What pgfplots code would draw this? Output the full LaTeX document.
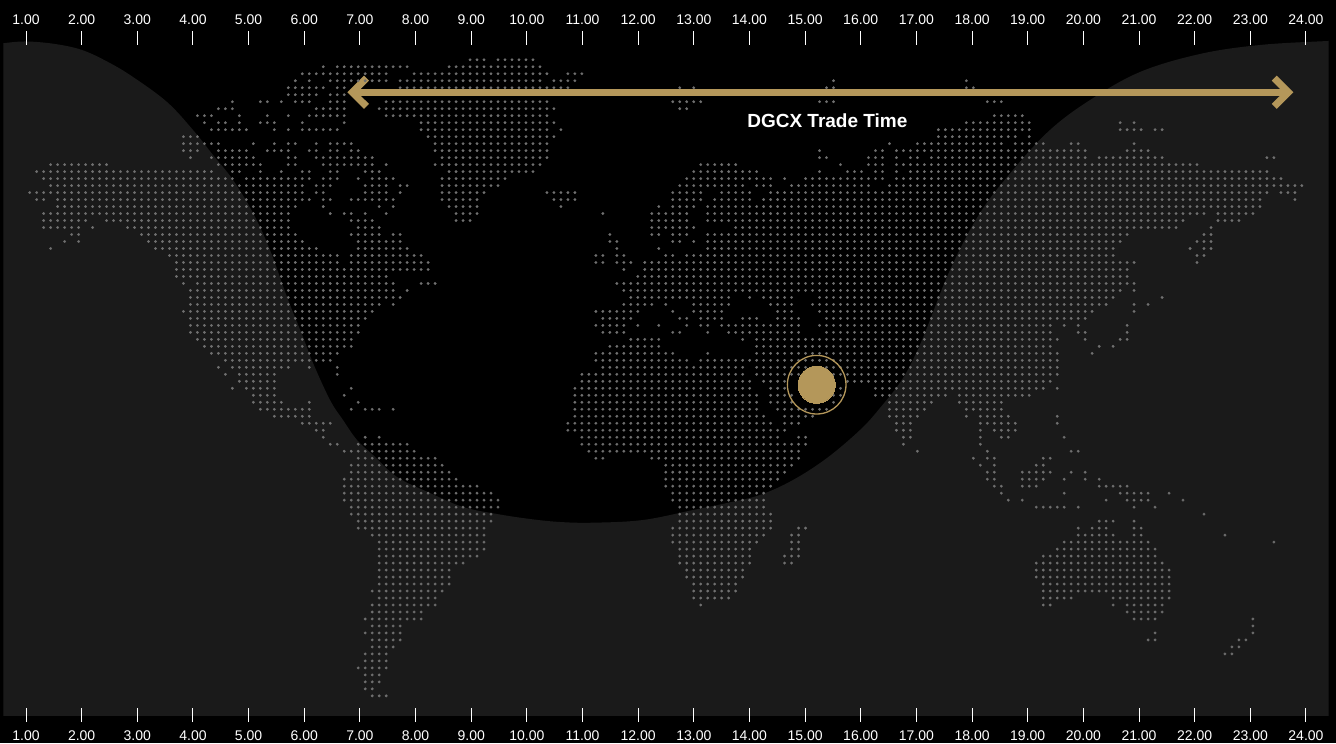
\documentclass[border=0pt]{standalone}
\usepackage{pgfplots}
\pgfplotsset{compat=1.18}
\usepackage{fontspec}
\setmainfont{Liberation Sans}
\definecolor{gold}{HTML}{B4975A}
\definecolor{land}{HTML}{707070}
% 1 px of the reference = 0.5pt here, x in hours, y in reference pixels
\pgfplotsset{timeaxis/.style={
  at={(1.65pt,14pt)}, anchor=south west,
  scale only axis, width=662.7pt, height=338.25pt,
  xmin=0.5921, xmax=24.4088, ymin=38.5, ymax=715, y dir=reverse,
  axis line style={draw=none},
  xtick={1,2,...,24}, ytick=\empty,
  tick align=center, major tick length=7pt,
  x tick style={white, line width=0.5pt},
  xticklabel style={white, font=\fontsize{7}{8}\selectfont,
    /pgf/number format/assume math mode=true,
    /pgf/number format/fixed, /pgf/number format/fixed zerofill, /pgf/number format/precision=2},
}}
\begin{document}
\begin{tikzpicture}
\useasboundingbox (0,0) rectangle (668pt,371.5pt);
\fill[black] (0,0) rectangle (668pt,371.5pt);
\begin{axis}[timeaxis, xtick pos=lower, xticklabel pos=lower, xticklabel shift=1pt]

% land dots on the 7 px grid: column, row
\addplot[only marks, mark=*, mark size=0.66pt, mark options={draw=land, fill=land, line width=0.1pt}, forget plot]
  table[x expr={(6.99*\thisrow{c}-24.29)/55.65+1}, y expr={3.86+6.99*\thisrow{r}}] {
c r
67 8
68 8
69 8
71 8
72 8
73 8
74 8
75 8
76 8
46 9
48 9
49 9
50 9
51 9
52 9
53 9
54 9
55 9
56 9
57 9
58 9
64 9
65 9
66 9
67 9
68 9
69 9
70 9
71 9
72 9
73 9
74 9
75 9
76 9
77 9
43 10
44 10
45 10
46 10
47 10
48 10
49 10
50 10
51 10
52 10
53 10
54 10
55 10
59 10
60 10
61 10
62 10
63 10
64 10
65 10
66 10
67 10
68 10
69 10
70 10
71 10
72 10
73 10
74 10
75 10
76 10
77 10
78 10
81 10
82 10
83 10
42 11
44 11
47 11
48 11
49 11
50 11
51 11
52 11
53 11
54 11
55 11
57 11
58 11
59 11
60 11
61 11
62 11
63 11
64 11
65 11
66 11
67 11
68 11
69 11
70 11
71 11
72 11
73 11
74 11
75 11
76 11
77 11
79 11
80 11
81 11
82 11
119 11
138 11
41 12
42 12
43 12
44 12
45 12
46 12
48 12
49 12
57 12
58 12
59 12
60 12
61 12
62 12
63 12
64 12
65 12
66 12
67 12
68 12
69 12
70 12
71 12
72 12
73 12
74 12
75 12
76 12
77 12
78 12
79 12
80 12
81 12
97 12
99 12
118 12
119 12
138 12
139 12
41 13
42 13
43 13
44 13
45 13
47 13
48 13
49 13
33 14
37 14
38 14
40 14
42 14
43 14
44 14
47 14
48 14
49 14
55 14
56 14
57 14
58 14
59 14
60 14
61 14
62 14
63 14
64 14
65 14
66 14
67 14
68 14
69 14
70 14
71 14
72 14
73 14
74 14
75 14
76 14
77 14
78 14
96 14
97 14
98 14
99 14
100 14
117 14
118 14
119 14
141 14
142 14
143 14
31 15
32 15
33 15
45 15
46 15
47 15
48 15
49 15
54 15
55 15
56 15
57 15
58 15
59 15
60 15
61 15
62 15
63 15
64 15
65 15
66 15
67 15
68 15
69 15
70 15
71 15
72 15
73 15
74 15
75 15
76 15
77 15
78 15
79 15
97 15
98 15
28 16
29 16
30 16
34 16
38 16
41 16
44 16
45 16
46 16
47 16
48 16
49 16
55 16
56 16
57 16
58 16
59 16
60 16
61 16
62 16
63 16
64 16
65 16
66 16
67 16
68 16
69 16
70 16
71 16
72 16
73 16
74 16
75 16
76 16
77 16
78 16
142 16
143 16
144 16
145 16
146 16
29 17
31 17
32 17
34 17
37 17
38 17
39 17
43 17
49 17
60 17
61 17
62 17
63 17
64 17
65 17
66 17
67 17
68 17
69 17
70 17
71 17
72 17
73 17
74 17
75 17
76 17
77 17
78 17
79 17
138 17
139 17
140 17
141 17
142 17
143 17
144 17
145 17
146 17
147 17
160 17
162 17
30 18
31 18
32 18
33 18
34 18
35 18
39 18
41 18
43 18
44 18
45 18
46 18
47 18
48 18
60 18
61 18
62 18
63 18
64 18
65 18
66 18
67 18
68 18
69 18
70 18
71 18
72 18
73 18
74 18
75 18
76 18
77 18
78 18
80 18
134 18
135 18
136 18
137 18
138 18
139 18
140 18
141 18
142 18
143 18
144 18
145 18
146 18
147 18
160 18
161 18
162 18
163 18
165 18
166 18
26 19
27 19
28 19
61 19
62 19
63 19
64 19
65 19
66 19
67 19
68 19
69 19
70 19
71 19
72 19
73 19
74 19
75 19
76 19
77 19
78 19
79 19
134 19
135 19
136 19
137 19
138 19
139 19
140 19
141 19
142 19
143 19
144 19
145 19
147 19
26 20
27 20
28 20
29 20
30 20
31 20
36 20
39 20
41 20
42 20
45 20
47 20
48 20
49 20
50 20
62 20
63 20
64 20
65 20
66 20
67 20
68 20
69 20
70 20
71 20
72 20
73 20
74 20
75 20
76 20
77 20
78 20
127 20
131 20
132 20
133 20
134 20
135 20
136 20
137 20
138 20
139 20
140 20
141 20
142 20
143 20
145 20
146 20
147 20
148 20
149 20
153 20
154 20
162 20
26 21
27 21
28 21
31 21
32 21
33 21
34 21
35 21
38 21
39 21
40 21
41 21
44 21
45 21
47 21
48 21
50 21
51 21
62 21
63 21
64 21
65 21
66 21
67 21
68 21
69 21
70 21
71 21
72 21
73 21
74 21
75 21
76 21
77 21
78 21
117 21
125 21
126 21
128 21
129 21
130 21
131 21
132 21
133 21
134 21
135 21
136 21
137 21
138 21
139 21
140 21
141 21
142 21
143 21
144 21
145 21
146 21
147 21
148 21
149 21
150 21
151 21
152 21
153 21
154 21
155 21
161 21
162 21
163 21
164 21
27 22
30 22
31 22
32 22
33 22
34 22
35 22
36 22
41 22
42 22
45 22
46 22
47 22
48 22
49 22
50 22
51 22
52 22
53 22
63 22
64 22
65 22
66 22
67 22
68 22
69 22
70 22
71 22
72 22
73 22
74 22
75 22
76 22
77 22
78 22
117 22
118 22
124 22
125 22
126 22
128 22
130 22
131 22
133 22
134 22
135 22
136 22
137 22
138 22
139 22
140 22
141 22
142 22
143 22
144 22
145 22
146 22
147 22
148 22
149 22
150 22
151 22
152 22
153 22
154 22
155 22
157 22
158 22
159 22
160 22
161 22
162 22
163 22
164 22
165 22
166 22
181 22
182 22
7 23
8 23
9 23
10 23
11 23
12 23
13 23
14 23
15 23
31 23
32 23
33 23
34 23
35 23
36 23
37 23
41 23
42 23
46 23
47 23
48 23
49 23
50 23
51 23
52 23
53 23
55 23
62 23
63 23
64 23
65 23
66 23
67 23
68 23
69 23
70 23
71 23
72 23
73 23
74 23
75 23
76 23
77 23
100 23
101 23
102 23
103 23
104 23
105 23
120 23
124 23
125 23
126 23
128 23
129 23
130 23
131 23
132 23
133 23
134 23
135 23
136 23
137 23
138 23
139 23
140 23
141 23
142 23
143 23
144 23
145 23
146 23
147 23
148 23
149 23
150 23
151 23
152 23
153 23
154 23
155 23
156 23
157 23
158 23
159 23
160 23
161 23
162 23
163 23
164 23
165 23
166 23
167 23
168 23
169 23
170 23
171 23
5 24
6 24
7 24
8 24
9 24
10 24
11 24
12 24
13 24
14 24
15 24
16 24
17 24
18 24
19 24
20 24
21 24
22 24
23 24
24 24
25 24
26 24
27 24
28 24
29 24
30 24
33 24
34 24
37 24
40 24
43 24
44 24
47 24
48 24
52 24
53 24
54 24
64 24
65 24
66 24
67 24
68 24
69 24
70 24
71 24
72 24
73 24
74 24
75 24
76 24
99 24
100 24
101 24
102 24
103 24
104 24
105 24
106 24
107 24
108 24
117 24
121 24
122 24
123 24
125 24
126 24
128 24
130 24
131 24
132 24
133 24
134 24
135 24
136 24
137 24
138 24
139 24
140 24
141 24
142 24
143 24
144 24
145 24
146 24
147 24
148 24
149 24
150 24
151 24
152 24
153 24
154 24
155 24
156 24
157 24
158 24
159 24
160 24
161 24
162 24
163 24
164 24
165 24
166 24
167 24
168 24
169 24
170 24
171 24
172 24
173 24
174 24
175 24
176 24
177 24
178 24
179 24
180 24
181 24
6 25
7 25
8 25
9 25
10 25
11 25
12 25
13 25
14 25
15 25
16 25
17 25
18 25
19 25
20 25
21 25
22 25
23 25
24 25
25 25
26 25
27 25
28 25
29 25
30 25
31 25
32 25
33 25
35 25
36 25
37 25
38 25
39 25
40 25
41 25
42 25
43 25
44 25
46 25
47 25
48 25
51 25
53 25
54 25
55 25
56 25
63 25
64 25
65 25
66 25
67 25
68 25
69 25
70 25
71 25
72 25
98 25
99 25
100 25
101 25
102 25
103 25
104 25
105 25
106 25
107 25
108 25
109 25
110 25
112 25
115 25
116 25
117 25
118 25
119 25
120 25
121 25
122 25
123 25
124 25
125 25
126 25
128 25
129 25
130 25
131 25
132 25
133 25
134 25
135 25
136 25
137 25
138 25
139 25
140 25
141 25
142 25
143 25
144 25
145 25
146 25
147 25
148 25
149 25
150 25
151 25
152 25
153 25
154 25
155 25
156 25
157 25
158 25
159 25
160 25
161 25
162 25
163 25
164 25
165 25
166 25
167 25
168 25
169 25
170 25
171 25
172 25
173 25
174 25
175 25
176 25
177 25
178 25
179 25
180 25
181 25
182 25
183 25
7 26
8 26
9 26
10 26
11 26
12 26
13 26
14 26
15 26
16 26
17 26
18 26
19 26
20 26
21 26
22 26
23 26
24 26
25 26
26 26
27 26
28 26
29 26
30 26
31 26
32 26
33 26
34 26
35 26
36 26
37 26
38 26
39 26
40 26
41 26
42 26
43 26
45 26
46 26
47 26
52 26
53 26
54 26
55 26
57 26
58 26
63 26
64 26
65 26
66 26
67 26
68 26
69 26
70 26
71 26
97 26
98 26
99 26
100 26
101 26
102 26
103 26
104 26
105 26
106 26
108 26
109 26
110 26
113 26
114 26
115 26
116 26
117 26
118 26
119 26
120 26
121 26
122 26
123 26
124 26
127 26
128 26
129 26
130 26
131 26
132 26
133 26
134 26
135 26
136 26
137 26
138 26
139 26
140 26
141 26
142 26
143 26
144 26
145 26
146 26
147 26
148 26
149 26
150 26
151 26
152 26
153 26
154 26
155 26
156 26
157 26
158 26
159 26
160 26
161 26
162 26
163 26
164 26
165 26
166 26
167 26
168 26
169 26
170 26
171 26
172 26
173 26
174 26
175 26
176 26
177 26
178 26
179 26
180 26
181 26
182 26
183 26
184 26
185 26
186 26
4 27
5 27
6 27
7 27
8 27
9 27
10 27
11 27
12 27
13 27
14 27
15 27
16 27
17 27
18 27
19 27
20 27
21 27
22 27
23 27
24 27
25 27
26 27
27 27
28 27
29 27
30 27
31 27
32 27
33 27
34 27
35 27
36 27
37 27
38 27
39 27
40 27
41 27
42 27
43 27
45 27
46 27
52 27
53 27
54 27
55 27
57 27
63 27
64 27
65 27
66 27
67 27
68 27
69 27
78 27
79 27
80 27
81 27
82 27
96 27
97 27
98 27
99 27
100 27
103 27
104 27
105 27
106 27
107 27
110 27
111 27
112 27
113 27
114 27
115 27
116 27
117 27
118 27
119 27
120 27
121 27
122 27
123 27
124 27
125 27
126 27
127 27
128 27
129 27
130 27
131 27
132 27
133 27
134 27
135 27
136 27
137 27
138 27
139 27
140 27
141 27
142 27
143 27
144 27
145 27
146 27
147 27
148 27
149 27
150 27
151 27
152 27
153 27
154 27
155 27
156 27
157 27
158 27
159 27
160 27
161 27
162 27
163 27
164 27
165 27
166 27
167 27
168 27
169 27
170 27
171 27
172 27
173 27
174 27
175 27
176 27
177 27
178 27
179 27
180 27
181 27
183 27
184 27
185 27
5 28
6 28
8 28
9 28
10 28
11 28
12 28
13 28
14 28
15 28
16 28
17 28
18 28
19 28
20 28
21 28
22 28
23 28
24 28
25 28
26 28
27 28
28 28
29 28
30 28
31 28
32 28
33 28
34 28
35 28
36 28
37 28
38 28
39 28
40 28
41 28
42 28
43 28
44 28
46 28
47 28
50 28
51 28
52 28
53 28
54 28
55 28
56 28
63 28
64 28
65 28
66 28
67 28
68 28
79 28
80 28
81 28
82 28
96 28
97 28
98 28
99 28
100 28
102 28
103 28
104 28
105 28
106 28
107 28
109 28
110 28
111 28
112 28
113 28
114 28
115 28
116 28
117 28
118 28
119 28
120 28
121 28
122 28
123 28
124 28
125 28
126 28
127 28
128 28
129 28
130 28
131 28
132 28
133 28
134 28
135 28
136 28
137 28
138 28
139 28
140 28
141 28
142 28
143 28
144 28
145 28
146 28
147 28
148 28
149 28
150 28
151 28
152 28
153 28
154 28
155 28
156 28
157 28
158 28
159 28
160 28
161 28
162 28
163 28
164 28
165 28
166 28
167 28
168 28
169 28
170 28
171 28
172 28
173 28
174 28
175 28
176 28
177 28
178 28
179 28
180 28
185 28
8 29
9 29
10 29
11 29
12 29
13 29
14 29
15 29
16 29
17 29
18 29
19 29
20 29
21 29
22 29
23 29
24 29
25 29
26 29
27 29
28 29
29 29
30 29
31 29
32 29
33 29
34 29
35 29
36 29
37 29
38 29
39 29
40 29
41 29
42 29
46 29
54 29
56 29
64 29
65 29
66 29
67 29
68 29
80 29
94 29
96 29
97 29
98 29
99 29
101 29
102 29
103 29
104 29
105 29
106 29
107 29
108 29
109 29
110 29
111 29
112 29
113 29
114 29
115 29
116 29
117 29
118 29
119 29
120 29
121 29
122 29
123 29
124 29
125 29
126 29
127 29
128 29
129 29
130 29
131 29
132 29
133 29
134 29
135 29
136 29
137 29
138 29
139 29
140 29
141 29
142 29
143 29
144 29
145 29
146 29
147 29
148 29
149 29
150 29
151 29
152 29
153 29
154 29
155 29
156 29
157 29
158 29
159 29
160 29
161 29
162 29
163 29
164 29
165 29
166 29
167 29
168 29
169 29
170 29
171 29
172 29
173 29
174 29
175 29
176 29
177 29
178 29
179 29
180 29
6 30
7 30
8 30
9 30
10 30
11 30
12 30
13 30
14 30
15 30
16 30
17 30
18 30
19 30
20 30
21 30
22 30
23 30
24 30
25 30
26 30
27 30
28 30
29 30
30 30
31 30
32 30
33 30
34 30
35 30
36 30
37 30
38 30
39 30
40 30
41 30
47 30
49 30
50 30
52 30
55 30
65 30
66 30
67 30
68 30
86 30
93 30
94 30
95 30
96 30
97 30
98 30
101 30
102 30
103 30
104 30
105 30
106 30
107 30
108 30
109 30
110 30
111 30
112 30
113 30
114 30
115 30
116 30
117 30
118 30
119 30
120 30
121 30
122 30
123 30
124 30
125 30
126 30
127 30
128 30
129 30
130 30
131 30
132 30
133 30
134 30
135 30
136 30
137 30
138 30
139 30
140 30
141 30
142 30
143 30
144 30
145 30
146 30
147 30
148 30
149 30
150 30
151 30
152 30
153 30
154 30
155 30
156 30
157 30
158 30
159 30
160 30
161 30
162 30
163 30
164 30
165 30
166 30
167 30
168 30
169 30
170 30
171 30
172 30
174 30
175 30
176 30
177 30
178 30
179 30
6 31
7 31
8 31
9 31
10 31
11 31
12 31
15 31
16 31
17 31
18 31
19 31
20 31
21 31
22 31
23 31
24 31
25 31
26 31
27 31
28 31
29 31
30 31
31 31
32 31
33 31
34 31
35 31
36 31
37 31
38 31
39 31
40 31
41 31
50 31
51 31
52 31
53 31
65 31
66 31
67 31
93 31
94 31
95 31
96 31
97 31
98 31
101 31
102 31
103 31
104 31
105 31
106 31
107 31
108 31
109 31
110 31
111 31
112 31
113 31
114 31
115 31
116 31
117 31
118 31
119 31
120 31
121 31
122 31
123 31
124 31
125 31
126 31
127 31
128 31
129 31
130 31
131 31
132 31
133 31
134 31
135 31
136 31
137 31
138 31
139 31
140 31
141 31
142 31
143 31
144 31
145 31
146 31
147 31
148 31
149 31
150 31
151 31
152 31
153 31
154 31
155 31
156 31
157 31
158 31
159 31
160 31
161 31
162 31
163 31
164 31
165 31
166 31
167 31
168 31
169 31
174 31
175 31
176 31
177 31
6 32
7 32
8 32
9 32
10 32
11 32
13 32
18 32
19 32
20 32
21 32
22 32
23 32
24 32
25 32
26 32
27 32
28 32
29 32
30 32
31 32
32 32
33 32
34 32
35 32
36 32
37 32
38 32
39 32
40 32
41 32
51 32
52 32
53 32
54 32
93 32
94 32
95 32
96 32
97 32
98 32
99 32
105 32
106 32
107 32
108 32
109 32
110 32
111 32
112 32
113 32
114 32
115 32
116 32
117 32
118 32
119 32
120 32
121 32
122 32
123 32
124 32
125 32
126 32
127 32
128 32
129 32
130 32
131 32
132 32
133 32
134 32
135 32
136 32
137 32
138 32
139 32
140 32
141 32
142 32
143 32
144 32
145 32
146 32
147 32
148 32
149 32
150 32
151 32
152 32
153 32
154 32
155 32
156 32
157 32
158 32
159 32
160 32
161 32
162 32
163 32
164 32
165 32
166 32
167 32
168 32
173 32
10 33
11 33
20 33
21 33
22 33
23 33
24 33
25 33
26 33
27 33
28 33
29 33
30 33
31 33
32 33
33 33
34 33
35 33
36 33
37 33
38 33
39 33
40 33
41 33
42 33
50 33
51 33
52 33
53 33
54 33
56 33
57 33
87 33
93 33
94 33
96 33
97 33
98 33
101 33
102 33
103 33
104 33
105 33
106 33
107 33
108 33
109 33
110 33
111 33
112 33
113 33
114 33
115 33
116 33
117 33
118 33
119 33
120 33
121 33
122 33
123 33
124 33
125 33
126 33
127 33
128 33
129 33
130 33
131 33
132 33
133 33
134 33
135 33
136 33
137 33
138 33
139 33
140 33
141 33
142 33
143 33
144 33
145 33
146 33
147 33
148 33
149 33
150 33
151 33
152 33
153 33
154 33
155 33
156 33
157 33
158 33
159 33
160 33
161 33
172 33
173 33
9 34
11 34
21 34
22 34
23 34
24 34
25 34
26 34
27 34
28 34
29 34
30 34
31 34
32 34
33 34
34 34
35 34
36 34
37 34
38 34
39 34
40 34
41 34
42 34
43 34
51 34
52 34
53 34
54 34
55 34
56 34
57 34
87 34
88 34
96 34
97 34
99 34
101 34
102 34
103 34
104 34
105 34
106 34
107 34
108 34
109 34
110 34
111 34
112 34
113 34
114 34
115 34
116 34
117 34
118 34
119 34
120 34
121 34
122 34
123 34
124 34
125 34
126 34
127 34
128 34
129 34
130 34
131 34
132 34
133 34
134 34
135 34
136 34
137 34
138 34
139 34
140 34
141 34
142 34
143 34
144 34
145 34
146 34
147 34
148 34
149 34
150 34
151 34
152 34
153 34
154 34
155 34
156 34
157 34
158 34
159 34
160 34
171 34
172 34
173 34
7 35
22 35
23 35
24 35
25 35
26 35
27 35
28 35
29 35
30 35
31 35
32 35
33 35
34 35
35 35
36 35
37 35
38 35
39 35
40 35
41 35
42 35
43 35
44 35
45 35
51 35
52 35
53 35
54 35
55 35
56 35
57 35
58 35
88 35
94 35
101 35
102 35
103 35
104 35
105 35
106 35
107 35
108 35
109 35
110 35
111 35
112 35
113 35
114 35
115 35
116 35
117 35
118 35
119 35
120 35
121 35
122 35
123 35
124 35
125 35
126 35
127 35
128 35
129 35
130 35
131 35
132 35
133 35
134 35
135 35
136 35
137 35
138 35
139 35
140 35
141 35
142 35
143 35
144 35
145 35
146 35
147 35
148 35
149 35
150 35
151 35
152 35
153 35
154 35
155 35
156 35
157 35
158 35
159 35
170 35
172 35
173 35
24 36
25 36
26 36
27 36
28 36
29 36
30 36
31 36
32 36
33 36
34 36
35 36
36 36
37 36
38 36
39 36
40 36
41 36
42 36
43 36
44 36
45 36
46 36
47 36
48 36
50 36
51 36
52 36
53 36
54 36
55 36
56 36
57 36
58 36
59 36
60 36
85 36
86 36
88 36
89 36
95 36
96 36
98 36
99 36
100 36
101 36
102 36
103 36
104 36
105 36
106 36
107 36
108 36
109 36
110 36
111 36
112 36
113 36
114 36
115 36
116 36
117 36
118 36
119 36
120 36
121 36
122 36
123 36
124 36
125 36
126 36
127 36
128 36
129 36
130 36
131 36
132 36
133 36
134 36
135 36
136 36
137 36
138 36
139 36
140 36
141 36
142 36
143 36
144 36
145 36
146 36
147 36
148 36
149 36
150 36
151 36
152 36
153 36
154 36
155 36
156 36
157 36
158 36
159 36
171 36
172 36
25 37
26 37
27 37
28 37
29 37
30 37
31 37
32 37
33 37
34 37
35 37
36 37
37 37
38 37
39 37
40 37
41 37
42 37
43 37
44 37
45 37
46 37
47 37
48 37
50 37
51 37
52 37
53 37
54 37
55 37
56 37
57 37
58 37
59 37
60 37
61 37
85 37
86 37
88 37
89 37
90 37
92 37
93 37
94 37
95 37
96 37
97 37
98 37
99 37
100 37
101 37
102 37
103 37
104 37
105 37
106 37
107 37
108 37
109 37
110 37
111 37
112 37
113 37
114 37
115 37
116 37
117 37
118 37
119 37
120 37
121 37
122 37
123 37
124 37
125 37
126 37
127 37
128 37
129 37
130 37
131 37
132 37
133 37
134 37
135 37
136 37
137 37
138 37
139 37
140 37
141 37
142 37
143 37
144 37
145 37
146 37
147 37
148 37
149 37
150 37
151 37
152 37
153 37
154 37
155 37
156 37
157 37
158 37
159 37
160 37
161 37
162 37
171 37
25 38
26 38
27 38
28 38
29 38
30 38
31 38
32 38
33 38
34 38
35 38
36 38
37 38
38 38
39 38
40 38
41 38
42 38
43 38
44 38
45 38
46 38
47 38
48 38
49 38
50 38
51 38
52 38
53 38
54 38
55 38
56 38
57 38
58 38
59 38
60 38
61 38
89 38
92 38
93 38
94 38
95 38
96 38
97 38
98 38
99 38
100 38
101 38
102 38
103 38
104 38
105 38
106 38
107 38
108 38
109 38
110 38
111 38
112 38
113 38
114 38
115 38
116 38
117 38
118 38
119 38
120 38
121 38
122 38
123 38
124 38
125 38
126 38
127 38
128 38
129 38
130 38
131 38
132 38
133 38
134 38
135 38
136 38
137 38
138 38
139 38
140 38
141 38
142 38
143 38
144 38
145 38
146 38
147 38
148 38
149 38
150 38
151 38
152 38
153 38
154 38
155 38
156 38
157 38
158 38
159 38
160 38
161 38
25 39
26 39
27 39
28 39
29 39
30 39
31 39
32 39
33 39
34 39
35 39
36 39
37 39
38 39
39 39
40 39
41 39
42 39
43 39
44 39
45 39
46 39
47 39
48 39
49 39
50 39
51 39
52 39
53 39
54 39
55 39
91 39
92 39
93 39
94 39
95 39
96 39
97 39
98 39
99 39
100 39
101 39
102 39
103 39
104 39
105 39
106 39
107 39
108 39
109 39
110 39
111 39
112 39
113 39
114 39
115 39
116 39
117 39
118 39
119 39
120 39
121 39
122 39
123 39
124 39
125 39
126 39
127 39
128 39
129 39
130 39
131 39
132 39
133 39
134 39
135 39
136 39
137 39
138 39
139 39
140 39
141 39
142 39
143 39
144 39
145 39
146 39
147 39
148 39
149 39
150 39
151 39
152 39
153 39
154 39
155 39
156 39
157 39
158 39
159 39
160 39
161 39
26 40
28 40
29 40
30 40
31 40
32 40
33 40
34 40
35 40
36 40
37 40
38 40
39 40
40 40
41 40
42 40
43 40
44 40
45 40
46 40
47 40
48 40
49 40
50 40
51 40
52 40
53 40
54 40
55 40
56 40
60 40
61 40
62 40
88 40
89 40
90 40
91 40
92 40
93 40
94 40
95 40
96 40
97 40
98 40
99 40
100 40
101 40
102 40
103 40
104 40
105 40
106 40
107 40
108 40
109 40
110 40
111 40
112 40
113 40
114 40
115 40
116 40
117 40
118 40
119 40
120 40
121 40
122 40
123 40
124 40
125 40
126 40
127 40
128 40
129 40
130 40
131 40
132 40
133 40
134 40
135 40
136 40
137 40
138 40
139 40
140 40
141 40
142 40
143 40
144 40
145 40
146 40
147 40
148 40
149 40
150 40
151 40
152 40
153 40
154 40
155 40
156 40
157 40
158 40
159 40
160 40
161 40
162 40
27 41
28 41
29 41
30 41
31 41
32 41
33 41
34 41
35 41
36 41
37 41
38 41
39 41
40 41
41 41
42 41
43 41
44 41
45 41
46 41
47 41
48 41
49 41
50 41
51 41
52 41
53 41
54 41
55 41
56 41
58 41
89 41
90 41
91 41
92 41
93 41
94 41
95 41
96 41
97 41
98 41
99 41
100 41
101 41
102 41
103 41
104 41
105 41
106 41
107 41
108 41
109 41
110 41
111 41
112 41
113 41
114 41
115 41
116 41
117 41
118 41
119 41
120 41
121 41
122 41
123 41
124 41
125 41
126 41
127 41
128 41
129 41
130 41
131 41
132 41
133 41
134 41
135 41
136 41
137 41
138 41
139 41
140 41
141 41
142 41
143 41
144 41
145 41
146 41
147 41
148 41
149 41
150 41
151 41
152 41
153 41
154 41
155 41
156 41
157 41
158 41
159 41
160 41
162 41
27 42
28 42
29 42
30 42
31 42
32 42
33 42
34 42
35 42
36 42
37 42
38 42
39 42
40 42
41 42
42 42
43 42
44 42
45 42
46 42
47 42
48 42
49 42
50 42
51 42
52 42
53 42
54 42
55 42
56 42
57 42
90 42
91 42
92 42
93 42
94 42
95 42
96 42
97 42
98 42
99 42
100 42
101 42
102 42
103 42
104 42
107 42
109 42
110 42
111 42
112 42
113 42
117 42
118 42
119 42
120 42
121 42
122 42
123 42
124 42
125 42
126 42
127 42
128 42
129 42
130 42
131 42
132 42
133 42
134 42
135 42
136 42
137 42
138 42
139 42
140 42
141 42
142 42
143 42
144 42
145 42
146 42
147 42
148 42
149 42
150 42
151 42
152 42
153 42
154 42
155 42
156 42
157 42
158 42
159 42
166 42
27 43
28 43
29 43
30 43
31 43
32 43
33 43
34 43
35 43
36 43
37 43
38 43
39 43
40 43
41 43
42 43
43 43
44 43
45 43
46 43
47 43
48 43
49 43
50 43
51 43
52 43
53 43
54 43
56 43
89 43
90 43
91 43
92 43
93 43
95 43
99 43
100 43
101 43
102 43
103 43
104 43
110 43
111 43
112 43
113 43
116 43
117 43
118 43
119 43
120 43
121 43
122 43
123 43
124 43
125 43
126 43
127 43
128 43
129 43
130 43
131 43
132 43
133 43
134 43
135 43
136 43
137 43
138 43
139 43
140 43
141 43
142 43
143 43
144 43
145 43
146 43
147 43
148 43
149 43
150 43
151 43
152 43
153 43
154 43
155 43
156 43
157 43
158 43
162 43
164 43
26 44
27 44
28 44
29 44
30 44
31 44
32 44
33 44
34 44
35 44
36 44
37 44
38 44
39 44
40 44
41 44
42 44
43 44
44 44
45 44
46 44
47 44
48 44
49 44
50 44
51 44
52 44
53 44
85 44
86 44
87 44
88 44
89 44
90 44
91 44
96 44
99 44
100 44
101 44
102 44
103 44
111 44
112 44
113 44
117 44
118 44
119 44
120 44
121 44
122 44
123 44
124 44
125 44
126 44
127 44
128 44
129 44
130 44
131 44
132 44
133 44
134 44
135 44
136 44
137 44
138 44
139 44
140 44
141 44
142 44
143 44
144 44
145 44
146 44
147 44
148 44
149 44
150 44
151 44
152 44
153 44
154 44
155 44
156 44
162 44
27 45
28 45
29 45
30 45
31 45
32 45
33 45
34 45
35 45
36 45
37 45
38 45
39 45
40 45
41 45
42 45
43 45
44 45
45 45
46 45
47 45
48 45
49 45
50 45
51 45
52 45
86 45
87 45
88 45
89 45
90 45
97 45
98 45
100 45
101 45
102 45
103 45
106 45
107 45
108 45
111 45
112 45
113 45
114 45
118 45
119 45
120 45
121 45
122 45
123 45
124 45
125 45
126 45
127 45
128 45
129 45
130 45
131 45
132 45
133 45
134 45
135 45
136 45
137 45
138 45
139 45
140 45
141 45
142 45
143 45
144 45
145 45
146 45
147 45
148 45
149 45
150 45
151 45
152 45
153 45
154 45
155 45
27 46
28 46
29 46
30 46
31 46
32 46
33 46
34 46
35 46
36 46
37 46
38 46
39 46
40 46
41 46
42 46
43 46
44 46
45 46
46 46
47 46
48 46
49 46
50 46
51 46
85 46
86 46
87 46
88 46
89 46
91 46
94 46
98 46
100 46
101 46
103 46
104 46
105 46
106 46
107 46
108 46
109 46
110 46
111 46
112 46
113 46
114 46
117 46
118 46
119 46
120 46
121 46
122 46
123 46
124 46
125 46
126 46
127 46
128 46
129 46
130 46
131 46
132 46
133 46
134 46
135 46
136 46
137 46
138 46
139 46
140 46
141 46
142 46
143 46
144 46
145 46
146 46
147 46
148 46
149 46
150 46
152 46
154 46
161 46
27 47
28 47
29 47
30 47
31 47
32 47
33 47
34 47
35 47
36 47
37 47
38 47
39 47
40 47
41 47
42 47
43 47
44 47
45 47
46 47
47 47
48 47
49 47
50 47
51 47
86 47
87 47
88 47
89 47
96 47
97 47
101 47
104 47
105 47
106 47
107 47
108 47
109 47
110 47
111 47
112 47
113 47
114 47
118 47
119 47
120 47
121 47
122 47
123 47
124 47
125 47
126 47
127 47
128 47
129 47
130 47
131 47
132 47
133 47
134 47
135 47
136 47
137 47
138 47
139 47
140 47
141 47
142 47
143 47
144 47
145 47
146 47
147 47
148 47
149 47
150 47
154 47
155 47
161 47
28 48
29 48
30 48
31 48
32 48
33 48
34 48
35 48
36 48
37 48
38 48
39 48
40 48
41 48
42 48
43 48
44 48
45 48
46 48
47 48
48 48
49 48
50 48
90 48
91 48
92 48
93 48
94 48
106 48
108 48
109 48
110 48
111 48
112 48
113 48
114 48
115 48
116 48
117 48
118 48
119 48
120 48
121 48
122 48
123 48
124 48
125 48
126 48
127 48
128 48
129 48
130 48
131 48
132 48
133 48
134 48
135 48
136 48
137 48
138 48
139 48
140 48
141 48
142 48
143 48
144 48
145 48
146 48
147 48
148 48
149 48
150 48
151 48
155 48
160 48
161 48
29 49
30 49
31 49
32 49
33 49
34 49
35 49
36 49
37 49
38 49
39 49
40 49
41 49
42 49
43 49
44 49
45 49
46 49
47 49
48 49
49 49
50 49
87 49
88 49
89 49
90 49
91 49
92 49
93 49
94 49
108 49
109 49
110 49
111 49
112 49
113 49
114 49
115 49
116 49
117 49
118 49
119 49
120 49
121 49
122 49
123 49
124 49
125 49
126 49
127 49
128 49
129 49
130 49
131 49
132 49
133 49
134 49
135 49
136 49
137 49
138 49
139 49
140 49
141 49
142 49
143 49
144 49
145 49
146 49
147 49
148 49
149 49
150 49
157 49
159 49
30 50
31 50
32 50
33 50
34 50
35 50
36 50
37 50
38 50
39 50
40 50
41 50
42 50
43 50
44 50
45 50
46 50
47 50
48 50
85 50
86 50
87 50
88 50
89 50
90 50
91 50
92 50
93 50
94 50
95 50
96 50
101 50
108 50
109 50
110 50
111 50
112 50
113 50
114 50
115 50
116 50
117 50
118 50
119 50
120 50
121 50
122 50
123 50
124 50
125 50
126 50
127 50
128 50
129 50
130 50
131 50
132 50
133 50
134 50
135 50
136 50
137 50
138 50
139 50
140 50
141 50
142 50
143 50
144 50
145 50
146 50
147 50
148 50
149 50
150 50
151 50
156 50
32 51
33 51
34 51
35 51
36 51
37 51
38 51
39 51
40 51
41 51
42 51
43 51
44 51
45 51
46 51
47 51
85 51
86 51
87 51
88 51
89 51
90 51
91 51
92 51
93 51
94 51
95 51
96 51
97 51
98 51
100 51
101 51
102 51
103 51
104 51
105 51
106 51
107 51
108 51
109 51
110 51
111 51
112 51
113 51
114 51
115 51
116 51
117 51
118 51
119 51
120 51
121 51
122 51
123 51
124 51
125 51
126 51
127 51
128 51
129 51
130 51
131 51
132 51
133 51
134 51
135 51
136 51
137 51
138 51
139 51
140 51
141 51
142 51
143 51
144 51
145 51
146 51
147 51
148 51
149 51
150 51
151 51
31 52
33 52
34 52
35 52
36 52
37 52
38 52
39 52
40 52
41 52
44 52
48 52
86 52
87 52
88 52
89 52
90 52
91 52
92 52
93 52
94 52
95 52
96 52
97 52
98 52
99 52
100 52
101 52
102 52
103 52
104 52
105 52
106 52
108 52
109 52
110 52
111 52
112 52
113 52
114 52
115 52
116 52
117 52
118 52
119 52
120 52
121 52
122 52
123 52
124 52
125 52
126 52
127 52
128 52
129 52
130 52
131 52
132 52
133 52
134 52
135 52
136 52
137 52
138 52
139 52
140 52
141 52
142 52
143 52
144 52
145 52
146 52
147 52
148 52
149 52
150 52
151 52
32 53
34 53
35 53
36 53
37 53
38 53
39 53
48 53
83 53
84 53
85 53
86 53
87 53
88 53
89 53
90 53
91 53
92 53
93 53
94 53
95 53
96 53
97 53
98 53
99 53
100 53
101 53
102 53
103 53
104 53
105 53
106 53
108 53
109 53
110 53
111 53
112 53
113 53
114 53
115 53
116 53
117 53
118 53
119 53
120 53
121 53
122 53
123 53
124 53
125 53
126 53
127 53
128 53
129 53
130 53
131 53
132 53
133 53
134 53
135 53
136 53
137 53
138 53
139 53
140 53
141 53
142 53
143 53
144 53
145 53
146 53
147 53
148 53
149 53
150 53
151 53
34 54
35 54
36 54
37 54
38 54
39 54
83 54
84 54
85 54
86 54
87 54
88 54
89 54
90 54
91 54
92 54
93 54
94 54
95 54
96 54
97 54
98 54
99 54
100 54
101 54
102 54
103 54
104 54
105 54
106 54
107 54
109 54
110 54
111 54
112 54
121 54
122 54
123 54
124 54
125 54
126 54
127 54
128 54
129 54
130 54
131 54
132 54
133 54
134 54
135 54
136 54
137 54
138 54
139 54
140 54
141 54
142 54
143 54
144 54
145 54
146 54
147 54
148 54
149 54
150 54
33 55
35 55
36 55
37 55
38 55
39 55
50 55
82 55
83 55
84 55
85 55
86 55
87 55
88 55
89 55
90 55
91 55
92 55
93 55
94 55
95 55
96 55
97 55
98 55
99 55
100 55
101 55
102 55
103 55
104 55
105 55
106 55
107 55
110 55
111 55
112 55
120 55
125 55
126 55
127 55
128 55
129 55
130 55
131 55
132 55
133 55
134 55
135 55
136 55
137 55
138 55
139 55
140 55
141 55
142 55
143 55
144 55
145 55
146 55
147 55
148 55
149 55
151 55
36 56
37 56
38 56
39 56
49 56
82 56
83 56
84 56
85 56
86 56
87 56
88 56
89 56
90 56
91 56
92 56
93 56
94 56
95 56
96 56
97 56
98 56
99 56
100 56
101 56
102 56
103 56
104 56
105 56
106 56
107 56
108 56
110 56
111 56
112 56
113 56
119 56
120 56
125 56
126 56
127 56
128 56
129 56
130 56
131 56
132 56
133 56
134 56
135 56
137 56
138 56
139 56
140 56
141 56
142 56
143 56
144 56
145 56
146 56
147 56
36 57
37 57
38 57
39 57
40 57
44 57
51 57
82 57
83 57
84 57
85 57
86 57
87 57
88 57
89 57
90 57
91 57
92 57
93 57
94 57
95 57
96 57
97 57
98 57
99 57
100 57
101 57
102 57
103 57
104 57
105 57
106 57
107 57
108 57
110 57
111 57
112 57
113 57
119 57
127 57
128 57
129 57
130 57
131 57
132 57
133 57
137 57
138 57
139 57
140 57
141 57
142 57
143 57
37 58
38 58
39 58
40 58
41 58
42 58
43 58
44 58
50 58
52 58
53 58
54 58
56 58
82 58
83 58
84 58
85 58
86 58
87 58
88 58
89 58
90 58
91 58
92 58
93 58
94 58
95 58
96 58
97 58
98 58
99 58
100 58
101 58
102 58
103 58
104 58
105 58
106 58
107 58
108 58
111 58
112 58
113 58
114 58
115 58
116 58
117 58
118 58
127 58
128 58
129 58
130 58
131 58
132 58
138 58
139 58
140 58
141 58
142 58
143 58
39 59
40 59
41 59
42 59
43 59
44 59
82 59
83 59
84 59
85 59
86 59
87 59
88 59
89 59
90 59
91 59
92 59
93 59
94 59
95 59
96 59
97 59
98 59
99 59
100 59
101 59
102 59
103 59
104 59
105 59
106 59
107 59
108 59
109 59
112 59
113 59
114 59
115 59
116 59
127 59
128 59
129 59
130 59
131 59
138 59
140 59
141 59
142 59
143 59
144 59
151 59
43 60
44 60
45 60
46 60
47 60
81 60
82 60
83 60
84 60
85 60
86 60
87 60
88 60
89 60
90 60
91 60
92 60
93 60
94 60
95 60
96 60
97 60
98 60
99 60
100 60
101 60
102 60
103 60
104 60
105 60
106 60
107 60
108 60
109 60
110 60
112 60
113 60
114 60
128 60
129 60
130 60
140 60
141 60
142 60
143 60
144 60
145 60
151 60
45 61
46 61
81 61
82 61
83 61
84 61
85 61
86 61
87 61
88 61
89 61
90 61
91 61
92 61
93 61
94 61
95 61
96 61
97 61
98 61
99 61
100 61
101 61
102 61
103 61
104 61
105 61
106 61
107 61
108 61
109 61
110 61
111 61
112 61
128 61
129 61
130 61
140 61
142 61
143 61
144 61
145 61
46 62
52 62
54 62
83 62
84 62
85 62
86 62
87 62
88 62
89 62
90 62
91 62
92 62
93 62
94 62
95 62
96 62
97 62
98 62
99 62
100 62
101 62
102 62
103 62
104 62
105 62
106 62
107 62
108 62
109 62
110 62
111 62
114 62
115 62
129 62
130 62
140 62
143 62
144 62
152 62
47 63
48 63
51 63
52 63
53 63
54 63
55 63
56 63
57 63
58 63
83 63
84 63
85 63
86 63
87 63
88 63
89 63
90 63
91 63
92 63
93 63
94 63
95 63
96 63
97 63
98 63
99 63
100 63
101 63
102 63
103 63
104 63
105 63
106 63
107 63
108 63
109 63
110 63
111 63
112 63
113 63
114 63
115 63
129 63
140 63
49 64
50 64
51 64
52 64
53 64
54 64
55 64
56 64
57 64
58 64
59 64
84 64
85 64
86 64
87 64
88 64
89 64
90 64
91 64
92 64
93 64
94 64
95 64
96 64
97 64
98 64
99 64
100 64
101 64
102 64
103 64
104 64
105 64
106 64
107 64
108 64
109 64
110 64
111 64
112 64
113 64
114 64
131 64
141 64
153 64
154 64
51 65
52 65
53 65
54 65
55 65
56 65
57 65
58 65
59 65
60 65
61 65
62 65
85 65
86 65
93 65
94 65
95 65
96 65
97 65
98 65
99 65
100 65
101 65
102 65
103 65
104 65
105 65
106 65
107 65
108 65
109 65
110 65
111 65
112 65
113 65
114 65
139 65
141 65
142 65
149 65
150 65
50 66
51 66
52 66
53 66
54 66
55 66
56 66
57 66
58 66
59 66
60 66
61 66
62 66
63 66
95 66
96 66
97 66
98 66
99 66
100 66
101 66
102 66
103 66
104 66
105 66
106 66
107 66
108 66
109 66
110 66
111 66
112 66
113 66
140 66
142 66
148 66
149 66
50 67
51 67
52 67
53 67
54 67
55 67
56 67
57 67
58 67
59 67
60 67
61 67
62 67
63 67
64 67
95 67
96 67
97 67
98 67
99 67
100 67
101 67
102 67
103 67
104 67
105 67
106 67
107 67
108 67
109 67
110 67
111 67
112 67
141 67
142 67
146 67
147 67
148 67
149 67
150 67
153 67
155 67
49 68
50 68
51 68
52 68
53 68
54 68
55 68
56 68
57 68
58 68
59 68
60 68
61 68
62 68
63 68
64 68
65 68
95 68
96 68
97 68
98 68
99 68
100 68
101 68
102 68
103 68
104 68
105 68
106 68
107 68
108 68
109 68
110 68
111 68
141 68
142 68
146 68
147 68
148 68
149 68
152 68
155 68
157 68
49 69
50 69
51 69
52 69
53 69
54 69
55 69
56 69
57 69
58 69
59 69
60 69
61 69
62 69
63 69
64 69
65 69
66 69
67 69
68 69
95 69
96 69
97 69
98 69
99 69
100 69
101 69
102 69
103 69
104 69
105 69
106 69
107 69
108 69
109 69
110 69
142 69
143 69
146 69
147 69
148 69
157 69
158 69
159 69
160 69
161 69
49 70
50 70
51 70
52 70
53 70
54 70
55 70
56 70
57 70
58 70
59 70
60 70
61 70
62 70
63 70
64 70
65 70
66 70
67 70
68 70
69 70
70 70
96 70
97 70
98 70
99 70
100 70
101 70
102 70
103 70
104 70
105 70
106 70
107 70
108 70
109 70
143 70
152 70
160 70
161 70
162 70
163 70
164 70
167 70
49 71
50 71
51 71
52 71
53 71
54 71
55 71
56 71
57 71
58 71
59 71
60 71
61 71
62 71
63 71
64 71
65 71
66 71
67 71
68 71
69 71
70 71
71 71
96 71
97 71
98 71
99 71
100 71
101 71
102 71
103 71
104 71
105 71
106 71
107 71
108 71
109 71
144 71
146 71
158 71
161 71
162 71
163 71
164 71
169 71
50 72
51 72
52 72
53 72
54 72
55 72
56 72
57 72
58 72
59 72
60 72
61 72
62 72
63 72
64 72
65 72
66 72
67 72
68 72
69 72
70 72
71 72
97 72
98 72
99 72
100 72
101 72
102 72
103 72
104 72
105 72
106 72
107 72
108 72
109 72
148 72
149 72
150 72
151 72
152 72
154 72
162 72
165 72
50 73
51 73
52 73
53 73
54 73
55 73
56 73
57 73
58 73
59 73
60 73
61 73
62 73
63 73
64 73
65 73
66 73
67 73
68 73
69 73
70 73
97 73
98 73
99 73
100 73
101 73
102 73
103 73
104 73
105 73
106 73
107 73
108 73
109 73
110 73
172 73
51 74
52 74
53 74
54 74
55 74
56 74
57 74
58 74
59 74
60 74
61 74
62 74
63 74
64 74
65 74
66 74
67 74
68 74
69 74
70 74
97 74
98 74
99 74
100 74
101 74
102 74
103 74
104 74
105 74
106 74
107 74
108 74
109 74
110 74
157 74
158 74
159 74
162 74
51 75
52 75
53 75
54 75
55 75
56 75
57 75
58 75
59 75
60 75
61 75
62 75
63 75
64 75
65 75
66 75
67 75
68 75
69 75
96 75
97 75
98 75
99 75
100 75
101 75
102 75
103 75
104 75
105 75
106 75
107 75
108 75
109 75
110 75
114 75
115 75
154 75
156 75
157 75
158 75
162 75
163 75
53 76
54 76
55 76
56 76
57 76
58 76
59 76
60 76
61 76
62 76
63 76
64 76
65 76
66 76
67 76
68 76
69 76
96 76
97 76
98 76
99 76
100 76
101 76
102 76
103 76
104 76
105 76
106 76
107 76
108 76
109 76
113 76
114 76
154 76
155 76
156 76
157 76
158 76
159 76
162 76
163 76
175 76
54 77
55 77
56 77
57 77
58 77
59 77
60 77
61 77
62 77
63 77
64 77
65 77
66 77
67 77
68 77
69 77
96 77
97 77
98 77
99 77
100 77
101 77
102 77
103 77
104 77
105 77
106 77
107 77
108 77
113 77
114 77
152 77
153 77
154 77
155 77
156 77
157 77
158 77
159 77
160 77
161 77
162 77
163 77
164 77
182 77
54 78
55 78
56 78
57 78
58 78
59 78
60 78
61 78
62 78
63 78
64 78
65 78
66 78
67 78
68 78
69 78
97 78
98 78
99 78
100 78
101 78
102 78
103 78
104 78
105 78
106 78
107 78
113 78
114 78
151 78
152 78
153 78
154 78
155 78
156 78
157 78
158 78
159 78
160 78
161 78
162 78
163 78
164 78
165 78
54 79
55 79
56 79
57 79
58 79
59 79
60 79
61 79
62 79
63 79
64 79
65 79
66 79
67 79
68 79
97 79
98 79
99 79
100 79
101 79
102 79
103 79
104 79
105 79
106 79
107 79
112 79
113 79
114 79
149 79
150 79
151 79
152 79
153 79
154 79
155 79
156 79
157 79
158 79
159 79
160 79
161 79
162 79
163 79
164 79
165 79
54 80
55 80
56 80
57 80
58 80
59 80
60 80
61 80
62 80
63 80
64 80
65 80
66 80
97 80
98 80
99 80
100 80
101 80
102 80
103 80
104 80
105 80
106 80
107 80
112 80
113 80
148 80
149 80
150 80
151 80
152 80
153 80
154 80
155 80
156 80
157 80
158 80
159 80
160 80
161 80
162 80
163 80
164 80
165 80
166 80
54 81
55 81
56 81
57 81
58 81
59 81
60 81
61 81
62 81
63 81
64 81
98 81
99 81
100 81
101 81
102 81
103 81
104 81
105 81
106 81
148 81
149 81
150 81
151 81
152 81
153 81
154 81
155 81
156 81
157 81
158 81
159 81
160 81
161 81
162 81
163 81
164 81
165 81
166 81
167 81
54 82
55 82
56 82
57 82
58 82
59 82
60 82
61 82
62 82
63 82
64 82
98 82
99 82
100 82
101 82
102 82
103 82
104 82
105 82
106 82
148 82
149 82
150 82
151 82
152 82
153 82
154 82
155 82
156 82
157 82
158 82
159 82
160 82
161 82
162 82
163 82
164 82
165 82
166 82
167 82
54 83
55 83
56 83
57 83
58 83
59 83
60 83
61 83
62 83
63 83
64 83
99 83
100 83
101 83
102 83
103 83
104 83
105 83
149 83
150 83
151 83
152 83
153 83
154 83
155 83
156 83
157 83
158 83
159 83
160 83
161 83
162 83
163 83
164 83
165 83
166 83
167 83
53 84
54 84
55 84
56 84
57 84
58 84
59 84
60 84
61 84
62 84
63 84
99 84
100 84
101 84
102 84
103 84
104 84
105 84
149 84
150 84
151 84
152 84
153 84
154 84
155 84
156 84
157 84
158 84
159 84
160 84
161 84
162 84
163 84
164 84
165 84
166 84
167 84
54 85
55 85
56 85
57 85
58 85
59 85
60 85
61 85
62 85
99 85
100 85
101 85
102 85
103 85
104 85
149 85
150 85
151 85
152 85
153 85
159 85
160 85
161 85
162 85
163 85
164 85
165 85
166 85
167 85
53 86
54 86
55 86
56 86
57 86
58 86
59 86
60 86
61 86
62 86
100 86
149 86
150 86
159 86
161 86
162 86
163 86
164 86
165 86
166 86
53 87
54 87
55 87
56 87
57 87
58 87
59 87
60 87
161 87
162 87
163 87
164 87
165 87
166 87
52 88
53 88
54 88
55 88
56 88
57 88
58 88
59 88
60 88
162 88
163 88
164 88
165 88
179 88
53 89
54 89
55 89
56 89
57 89
179 89
52 90
53 90
54 90
55 90
56 90
57 90
165 90
179 90
53 91
54 91
55 91
56 91
57 91
164 91
165 91
177 91
178 91
53 92
54 92
55 92
56 92
176 92
177 92
52 93
53 93
54 93
55 93
175 93
176 93
52 94
53 94
54 94
55 94
51 95
52 95
53 95
54 95
55 95
52 96
53 96
54 96
52 97
53 97
54 97
52 98
53 98
53 99
54 99
55 99
};

% hours of darkness, edge read in reference pixels
\addplot[draw=none, fill=white, fill opacity=0.1, smooth, tension=0.6, forget plot]
  table[x expr={(\thisrow{px}-26)/55.65+1}, y=py] {
px py
-20 47
3 43.3
26 41.5
55 44
82 50
108 62
133 77
167 102
193 130
213 155
233 180
253 213
270 250
287 297
303 337
313 363
330 400
343 420
357 440
373 455
397 477
430 493
463 507
497 514
530 519
560 522
593 522.7
643 520
693 510
727 503
760 495
793 480
827 458
860 430
880 408
903 378
922 340
950 270
980 213
1013 170
1050 130
1090 100
1140 72
1200 54
1260 45
1328 41
1360 40
1360 800
-20 800
};

% DGCX trade time arrow
\addplot[gold, line width=3.25pt, forget plot] coordinates {(6.9,92.3) (23.65,92.3)};
\addplot[gold, line width=3.5pt, line join=miter, forget plot] coordinates {(7.118,78.2) (6.863,92.3) (7.118,106.4)};
\addplot[gold, line width=3.5pt, line join=miter, forget plot] coordinates {(23.43,78.2) (23.685,92.3) (23.43,106.4)};

% Dubai marker
\addplot[only marks, mark=*, mark size=9.3pt, mark options={draw=gold, fill=gold, line width=0pt}, forget plot] coordinates {(15.208,384.7)};
\addplot[only marks, mark=o, mark size=14.65pt, mark options={draw=gold, line width=0.65pt}, forget plot] coordinates {(15.208,384.7)};

\node[white, font=\fontsize{9.5}{11}\selectfont\bfseries] at (axis cs:15.40,121) {DGCX Trade Time};
\end{axis}
\begin{axis}[timeaxis, xtick pos=upper, xticklabel pos=upper]
\end{axis}
\end{tikzpicture}
\end{document}
